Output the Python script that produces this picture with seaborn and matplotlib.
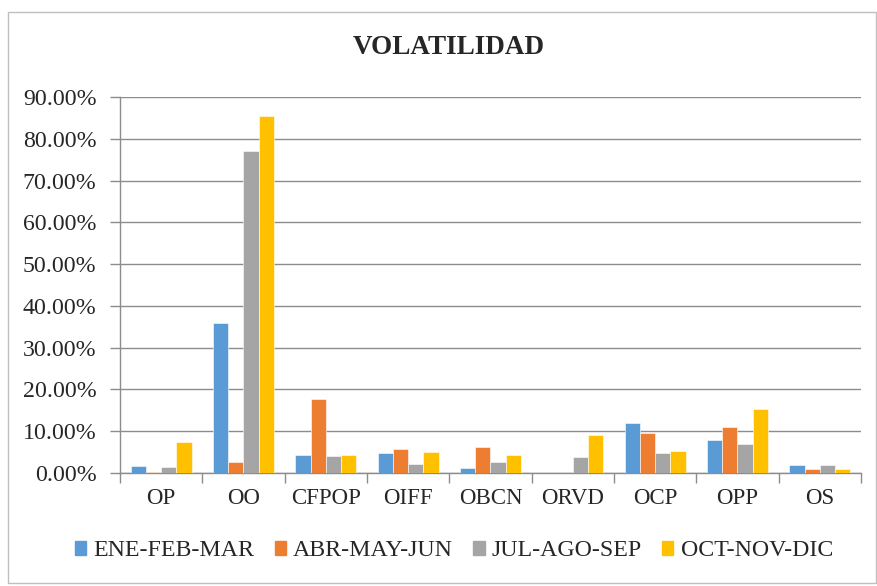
import numpy as np
import pandas as pd
import matplotlib
matplotlib.use("Agg")
import matplotlib.pyplot as plt
import seaborn as sns
from matplotlib.patches import Rectangle
from matplotlib.ticker import FixedLocator


# ------------------------------------------------------------------ #
# Data (values in %)
# ------------------------------------------------------------------ #

categories = ["OP", "OO", "CFPOP", "OIFF", "OBCN", "ORVD", "OCP", "OPP", "OS"]
periods    = ["ENE-FEB-MAR", "ABR-MAY-JUN", "JUL-AGO-SEP", "OCT-NOV-DIC"]

ene_feb_mar = [1.6, 35.8, 4.3, 4.8, 1.2, 0.0, 11.9, 7.8, 1.8]
abr_may_jun = [0.3, 2.7, 17.7, 5.7, 6.2, 0.0, 9.5, 11.0, 0.9]
jul_ago_sep = [1.5, 77.1, 4.1, 2.2, 2.6, 3.8, 4.9, 7.0, 1.8]
oct_nov_dic = [7.4, 85.5, 4.2, 5.1, 4.3, 9.0, 5.3, 15.2, 0.9]

yticks = [0, 10, 20, 30, 40, 50, 60, 70, 80, 90]
colors = ["#5B9BD5", "#ED7D31", "#A5A5A5", "#FFC000"]

df = pd.DataFrame({
    "Indicador": categories * 4,
    "Periodo":   [p for p in periods for _ in categories],
    "Valor":     ene_feb_mar + abr_may_jun + jul_ago_sep + oct_nov_dic,
})

# ------------------------------------------------------------------ #
# Plot
# ------------------------------------------------------------------ #

sns.set_style("white")
plt.rcParams["font.family"] = ["Liberation Serif", "DejaVu Serif"]

fig = plt.figure(figsize=(8.78, 5.86), dpi=100)
ax  = fig.add_axes([120 / 878, 1 - 473 / 586, 741 / 878, 376 / 586])

sns.barplot(data=df, x="Indicador", y="Valor", hue="Periodo",
            order=categories, hue_order=periods, palette=colors,
            saturation=1, width=0.74, edgecolor="white", linewidth=0.4,
            errorbar=None, ax=ax, zorder=3)

ax.set_xlim(-0.5, len(categories) - 0.5)
ax.set_ylim(0, 90)
ax.set_yticks(yticks)
ax.set_yticklabels([f"{v:.2f}%" for v in yticks])
ax.yaxis.grid(True, color="#8c8c8c", linewidth=1.0, zorder=0)
ax.set_axisbelow(True)

# category separators as tick marks below the axis
ax.xaxis.set_minor_locator(FixedLocator(np.arange(-0.5, len(categories), 1.0)))
ax.tick_params(axis="x", which="major", length=0, pad=11, labelsize=16.5)
ax.tick_params(axis="x", which="minor", length=7, width=1, color="#8c8c8c",
               direction="out", bottom=True)
ax.tick_params(axis="y", length=7, width=1, color="#8c8c8c", direction="out",
               left=True, pad=10, labelsize=17.2)

ax.set_xlabel("")
ax.set_ylabel("")
for side in ["top", "right"]:
    ax.spines[side].set_visible(False)
for side in ["left", "bottom"]:
    ax.spines[side].set_color("#8c8c8c")
    ax.spines[side].set_linewidth(1.0)

ax.get_legend().remove()
handles = [Rectangle((0, 0), 1, 1, color=c) for c in colors]
fig.legend(handles, periods, loc="center", ncol=4,
           bbox_to_anchor=(454 / 878, 1 - 551 / 586), frameon=False,
           fontsize=17.2, handlelength=0.47, handleheight=0.47,
           handletextpad=0.3, columnspacing=0.85)

fig.text(449 / 878, 1 - 48 / 586, "VOLATILIDAD", ha="center", va="center",
         fontsize=19.5, fontweight="bold")

# outer chart border
fig.patches.append(Rectangle((8 / 878, 3 / 586), 868 / 878, 571 / 586,
                             transform=fig.transFigure, fill=False,
                             edgecolor="#bfbfbf", linewidth=1.0))

fig.savefig("out.png", dpi=100)
